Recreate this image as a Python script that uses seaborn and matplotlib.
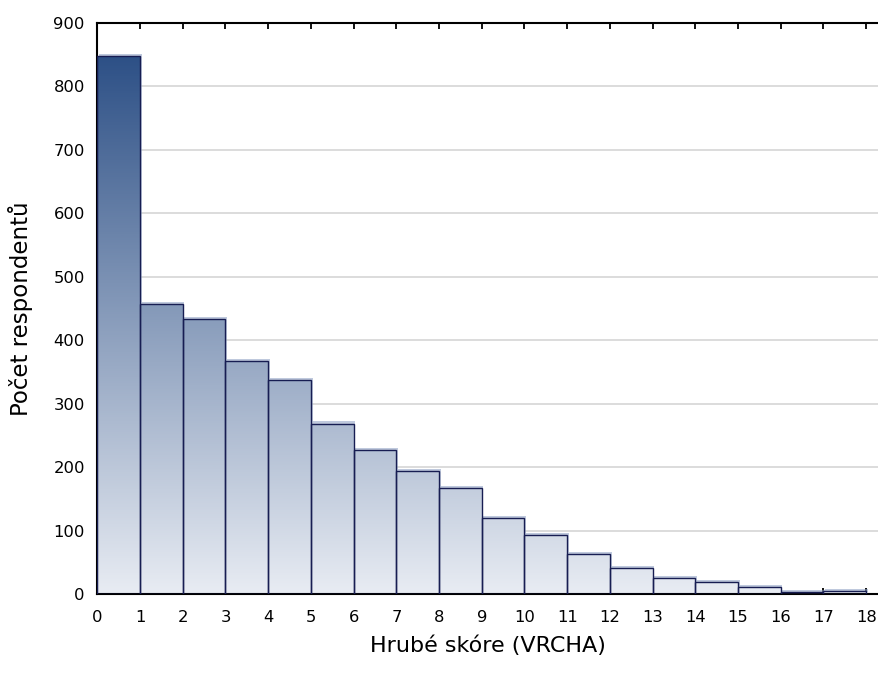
import numpy as np
import pandas as pd
import matplotlib
matplotlib.use("Agg")
import matplotlib.pyplot as plt
import seaborn as sns
from matplotlib.colors import LinearSegmentedColormap
from matplotlib.patches import Rectangle
from matplotlib.transforms import ScaledTranslation

# Raw score (VRCHA) and number of respondents per score
scores = list(range(18))
counts = [848, 457, 433, 368, 338, 269, 228, 195, 168, 120, 94, 64, 42, 26, 20, 12, 4, 5]
x_ticks = list(range(19))
y_ticks = list(range(0, 1000, 100))

sns.set_theme(style="white")
plt.rcParams["font.family"] = ["DejaVu Sans"]

fig = plt.figure(figsize=(8.79, 6.77), dpi=100)
ax = fig.add_axes([0.1107, 0.1219, 0.8893, 0.8446])

df = pd.DataFrame({"skore": [float(s) + 0.5 for s in scores], "pocet": counts})
sns.histplot(data=df, x="skore", weights="pocet", binwidth=1, binrange=(0, 18),
             ax=ax, stat="count", linewidth=1.0, edgecolor="#1b2257")

edge_col = "#171d52"
cmap = LinearSegmentedColormap.from_list("bars", ["#e8ecf3", "#2d5086"])
grad = np.linspace(0, 1, 512).reshape(-1, 1)
top = max(counts)
shadow_tf = ax.transData + ScaledTranslation(1.2 / 72, 1.5 / 72, fig.dpi_scale_trans)

for p in list(ax.patches):
    p.set_facecolor("none")
    p.set_edgecolor(edge_col)
    p.set_linewidth(1.0)
    p.set_zorder(3)
    # soft offset shadow behind each bar
    sh = Rectangle(p.get_xy(), p.get_width(), p.get_height(), transform=shadow_tf,
                   facecolor=(0.55, 0.62, 0.76), alpha=0.55, edgecolor="none", zorder=1.8)
    ax.add_patch(sh)
    # vertical gradient fill clipped to the bar
    im = ax.imshow(grad, extent=[0, 18.3, 0, top], origin="lower", aspect="auto",
                   cmap=cmap, zorder=2, interpolation="bilinear")
    im.set_clip_path(p)

ax.set_xlim(0, 18.3)
ax.set_ylim(0, 900)
ax.set_xticks(x_ticks)
ax.set_yticks(y_ticks)

ax.set_axisbelow(True)
ax.yaxis.grid(True, color="#d9d9d9", linewidth=1.3)
ax.xaxis.grid(False)

for side in ["left", "top", "bottom"]:
    ax.spines[side].set_visible(True)
    ax.spines[side].set_color("black")
    ax.spines[side].set_linewidth(1.5)
ax.spines["right"].set_visible(False)

ax.tick_params(axis="both", direction="in", length=4, width=1.3, colors="black",
               labelsize=11.8)
ax.tick_params(axis="x", bottom=True, top=True, labeltop=False, pad=11.5)
ax.tick_params(axis="y", left=True, right=False, pad=9)

ax.set_xlabel("Hrubé skóre (VRCHA)", fontsize=16, color="black")
ax.set_ylabel("Počet respondentů", fontsize=16.5, color="black")
ax.xaxis.set_label_coords(0.5, -0.071)
ax.yaxis.set_label_coords(-0.082, 0.5)

fig.savefig("out.png", dpi=100)
